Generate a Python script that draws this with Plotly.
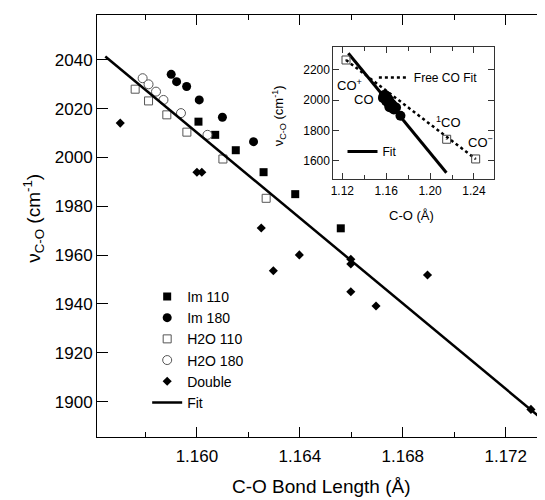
import plotly.graph_objects as go

# ---- data ----
im110_x = [1.16006, 1.16071, 1.16151, 1.16259, 1.16382, 1.16559]
im110_y = [2014.7, 2009.3, 2003.0, 1994.0, 1985.0, 1971.0]
im180_x = [1.15900, 1.15921, 1.15960, 1.16009, 1.16099, 1.16220]
im180_y = [2034.1, 2031.1, 2029.1, 2023.6, 2016.5, 2006.5]
h2o110_x = [1.15760, 1.15812, 1.15883, 1.15961, 1.16101, 1.16269]
h2o110_y = [2028.0, 2023.2, 2017.5, 2010.4, 1999.4, 1983.3]
h2o180_x = [1.15789, 1.15812, 1.15841, 1.15870, 1.15938, 1.16041]
h2o180_y = [2032.5, 2030.0, 2027.0, 2023.6, 2018.2, 2009.3]
double_x = [1.15702, 1.16000, 1.16019, 1.16250, 1.16398, 1.16297, 1.16598,
            1.16598, 1.16598, 1.16696, 1.16896, 1.17298]
double_y = [2014.1, 1994.0, 1994.0, 1971.1, 1960.1, 1953.6, 1958.3,
            1956.4, 1945.0, 1939.2, 1951.9, 1896.8]
fit_x = [1.15644, 1.17400]
fit_y = [2041.4, 1887.7]

# inset
inset_fit_x = [1.12547, 1.2149]
inset_fit_y = [2310.4, 1520.0]
free_co_x = [1.12337, 1.21513, 1.24155]
free_co_y = [2266.0, 1741.7, 1611.4]
free_fit_x = [1.12337, 1.24155]
free_fit_y = [2266.0, 1611.4]

FONT = "Arial, 'Liberation Sans', Helvetica, sans-serif"

fig = go.Figure()

fig.add_trace(go.Scatter(x=im110_x, y=im110_y, mode="markers", name="Im 110",
                         marker=dict(symbol="square", size=8, color="black")))
fig.add_trace(go.Scatter(x=im180_x, y=im180_y, mode="markers", name="Im 180",
                         marker=dict(symbol="circle", size=9, color="black")))
fig.add_trace(go.Scatter(x=h2o110_x, y=h2o110_y, mode="markers", name="H2O 110",
                         marker=dict(symbol="square", size=8, color="white",
                                     line=dict(color="#555", width=1))))
fig.add_trace(go.Scatter(x=h2o180_x, y=h2o180_y, mode="markers", name="H2O 180",
                         marker=dict(symbol="circle", size=9, color="white",
                                     line=dict(color="#555", width=1))))
fig.add_trace(go.Scatter(x=double_x, y=double_y, mode="markers", name="Double",
                         marker=dict(symbol="diamond", size=7, color="black")))
fig.add_trace(go.Scatter(x=fit_x, y=fit_y, mode="lines", name="Fit",
                         line=dict(color="black", width=2.5)))

# ---- inset ----
all_x = im110_x + im180_x + h2o110_x + h2o180_x + double_x
all_y = im110_y + im180_y + h2o110_y + h2o180_y + double_y
fig.add_trace(go.Scatter(x=free_fit_x, y=free_fit_y, mode="lines", name="Free CO Fit",
                         line=dict(color="black", width=2.5, dash="dot"),
                         xaxis="x2", yaxis="y2", legend="legend2"))
fig.add_trace(go.Scatter(x=inset_fit_x, y=inset_fit_y, mode="lines", name="Fit",
                         line=dict(color="black", width=3),
                         xaxis="x2", yaxis="y2", legend="legend3"))
fig.add_trace(go.Scatter(x=all_x, y=all_y, mode="markers", showlegend=False,
                         marker=dict(symbol="circle", size=10, color="black"),
                         xaxis="x2", yaxis="y2"))
fig.add_trace(go.Scatter(x=free_co_x, y=free_co_y, mode="markers", showlegend=False,
                         marker=dict(symbol="square-open-dot", size=8, color="#444",
                                     line=dict(width=1)),
                         xaxis="x2", yaxis="y2"))

ann_font = dict(family=FONT, size=13, color="black")
annotations = [
    dict(x=1.11335, y=2100.8, text="CO<sup>+</sup>", xanchor="left"),
    dict(x=1.1396, y=2007, text="CO", xanchor="center"),
    dict(x=1.20355, y=1852.8, text="<sup>1</sup>CO", xanchor="left"),
    dict(x=1.23244, y=1725, text="CO<sup>−</sup>", xanchor="left"),
]
for a in annotations:
    a.update(xref="x2", yref="y2", showarrow=False, yanchor="middle", font=ann_font)

# axis titles as annotations (paper coordinates)
annotations += [
    dict(xref="paper", yref="paper", x=0.5, y=-0.118, text="C-O Bond Length (Å)",
         showarrow=False, xanchor="center", yanchor="middle",
         font=dict(family=FONT, size=19, color="black")),
    dict(xref="paper", yref="paper", x=-0.141, y=0.519,
         text="ν<sub>C-O</sub> (cm<sup>-1</sup>)", textangle=-90,
         showarrow=False, xanchor="center", yanchor="middle",
         font=dict(family=FONT, size=19, color="black")),
    dict(xref="paper", yref="paper", x=0.701, y=0.526, text="C-O (Å)",
         showarrow=False, xanchor="center", yanchor="middle",
         font=dict(family=FONT, size=13, color="black")),
    dict(xref="paper", yref="paper", x=0.405, y=0.761,
         text="ν<sub>C-O</sub> (cm<sup>-1</sup>)", textangle=-90,
         showarrow=False, xanchor="center", yanchor="middle",
         font=dict(family=FONT, size=13, color="black")),
]

# The page body has an 8px default margin, so the figure is sized to fit the
# 545x500 window exactly from that offset.
fig.update_layout(
    width=537, height=492,
    margin=dict(l=89, r=0, t=7, b=63, autoexpand=False),
    paper_bgcolor="white", plot_bgcolor="white",
    font=dict(family=FONT, color="black"),
    annotations=annotations,
    xaxis=dict(range=[1.156117, 1.173526], tick0=1.160, dtick=0.004, tickformat=".3f",
               ticks="inside", ticklen=10, tickwidth=1, tickcolor="black",
               showline=True, linecolor="black", linewidth=1, mirror="ticks",
               showgrid=False, zeroline=False, automargin=False,
               ticklabelstandoff=4,
               minor=dict(dtick=0.002, tick0=1.160, ticks="inside", ticklen=5,
                          tickcolor="black", showgrid=False),
               tickfont=dict(size=17)),
    yaxis=dict(range=[1885.5, 2058.4], tick0=1900, dtick=20,
               ticks="inside", ticklen=11, tickwidth=1, tickcolor="black",
               showline=True, linecolor="black", linewidth=1,
               showgrid=False, zeroline=False, automargin=False,
               tickfont=dict(size=17)),
    xaxis2=dict(domain=[0.5275, 0.886], anchor="y2", range=[1.1118, 1.2582],
                tick0=1.12, dtick=0.04, tickformat=".2f",
                ticks="inside", ticklen=6, tickcolor="#333",
                showline=True, linecolor="#333", linewidth=1, mirror="ticks",
                showgrid=False, zeroline=False, automargin=False,
                minor=dict(dtick=0.02, tick0=1.12, ticks="inside", ticklen=4,
                           tickcolor="#333", showgrid=False),
                tickfont=dict(size=12)),
    yaxis2=dict(domain=[0.6107, 0.9249], anchor="x2", range=[1477, 2354],
                tickvals=[1600, 1800, 2000, 2200],
                ticks="inside", ticklen=6, tickcolor="#333",
                showline=True, linecolor="#333", linewidth=1, mirror="ticks",
                showgrid=False, zeroline=False, automargin=False,
                tickfont=dict(size=12)),
    legend=dict(x=0.112, y=0.370, xanchor="left", yanchor="top",
                font=dict(size=14), bgcolor="rgba(0,0,0,0)", tracegroupgap=0),
    legend2=dict(x=0.618, y=0.886, xanchor="left", yanchor="top",
                 font=dict(size=12), bgcolor="rgba(0,0,0,0)"),
    legend3=dict(x=0.548, y=0.711, xanchor="left", yanchor="top",
                 font=dict(size=12), bgcolor="rgba(0,0,0,0)"),
    showlegend=True,
)

fig.write_html("out.html")
